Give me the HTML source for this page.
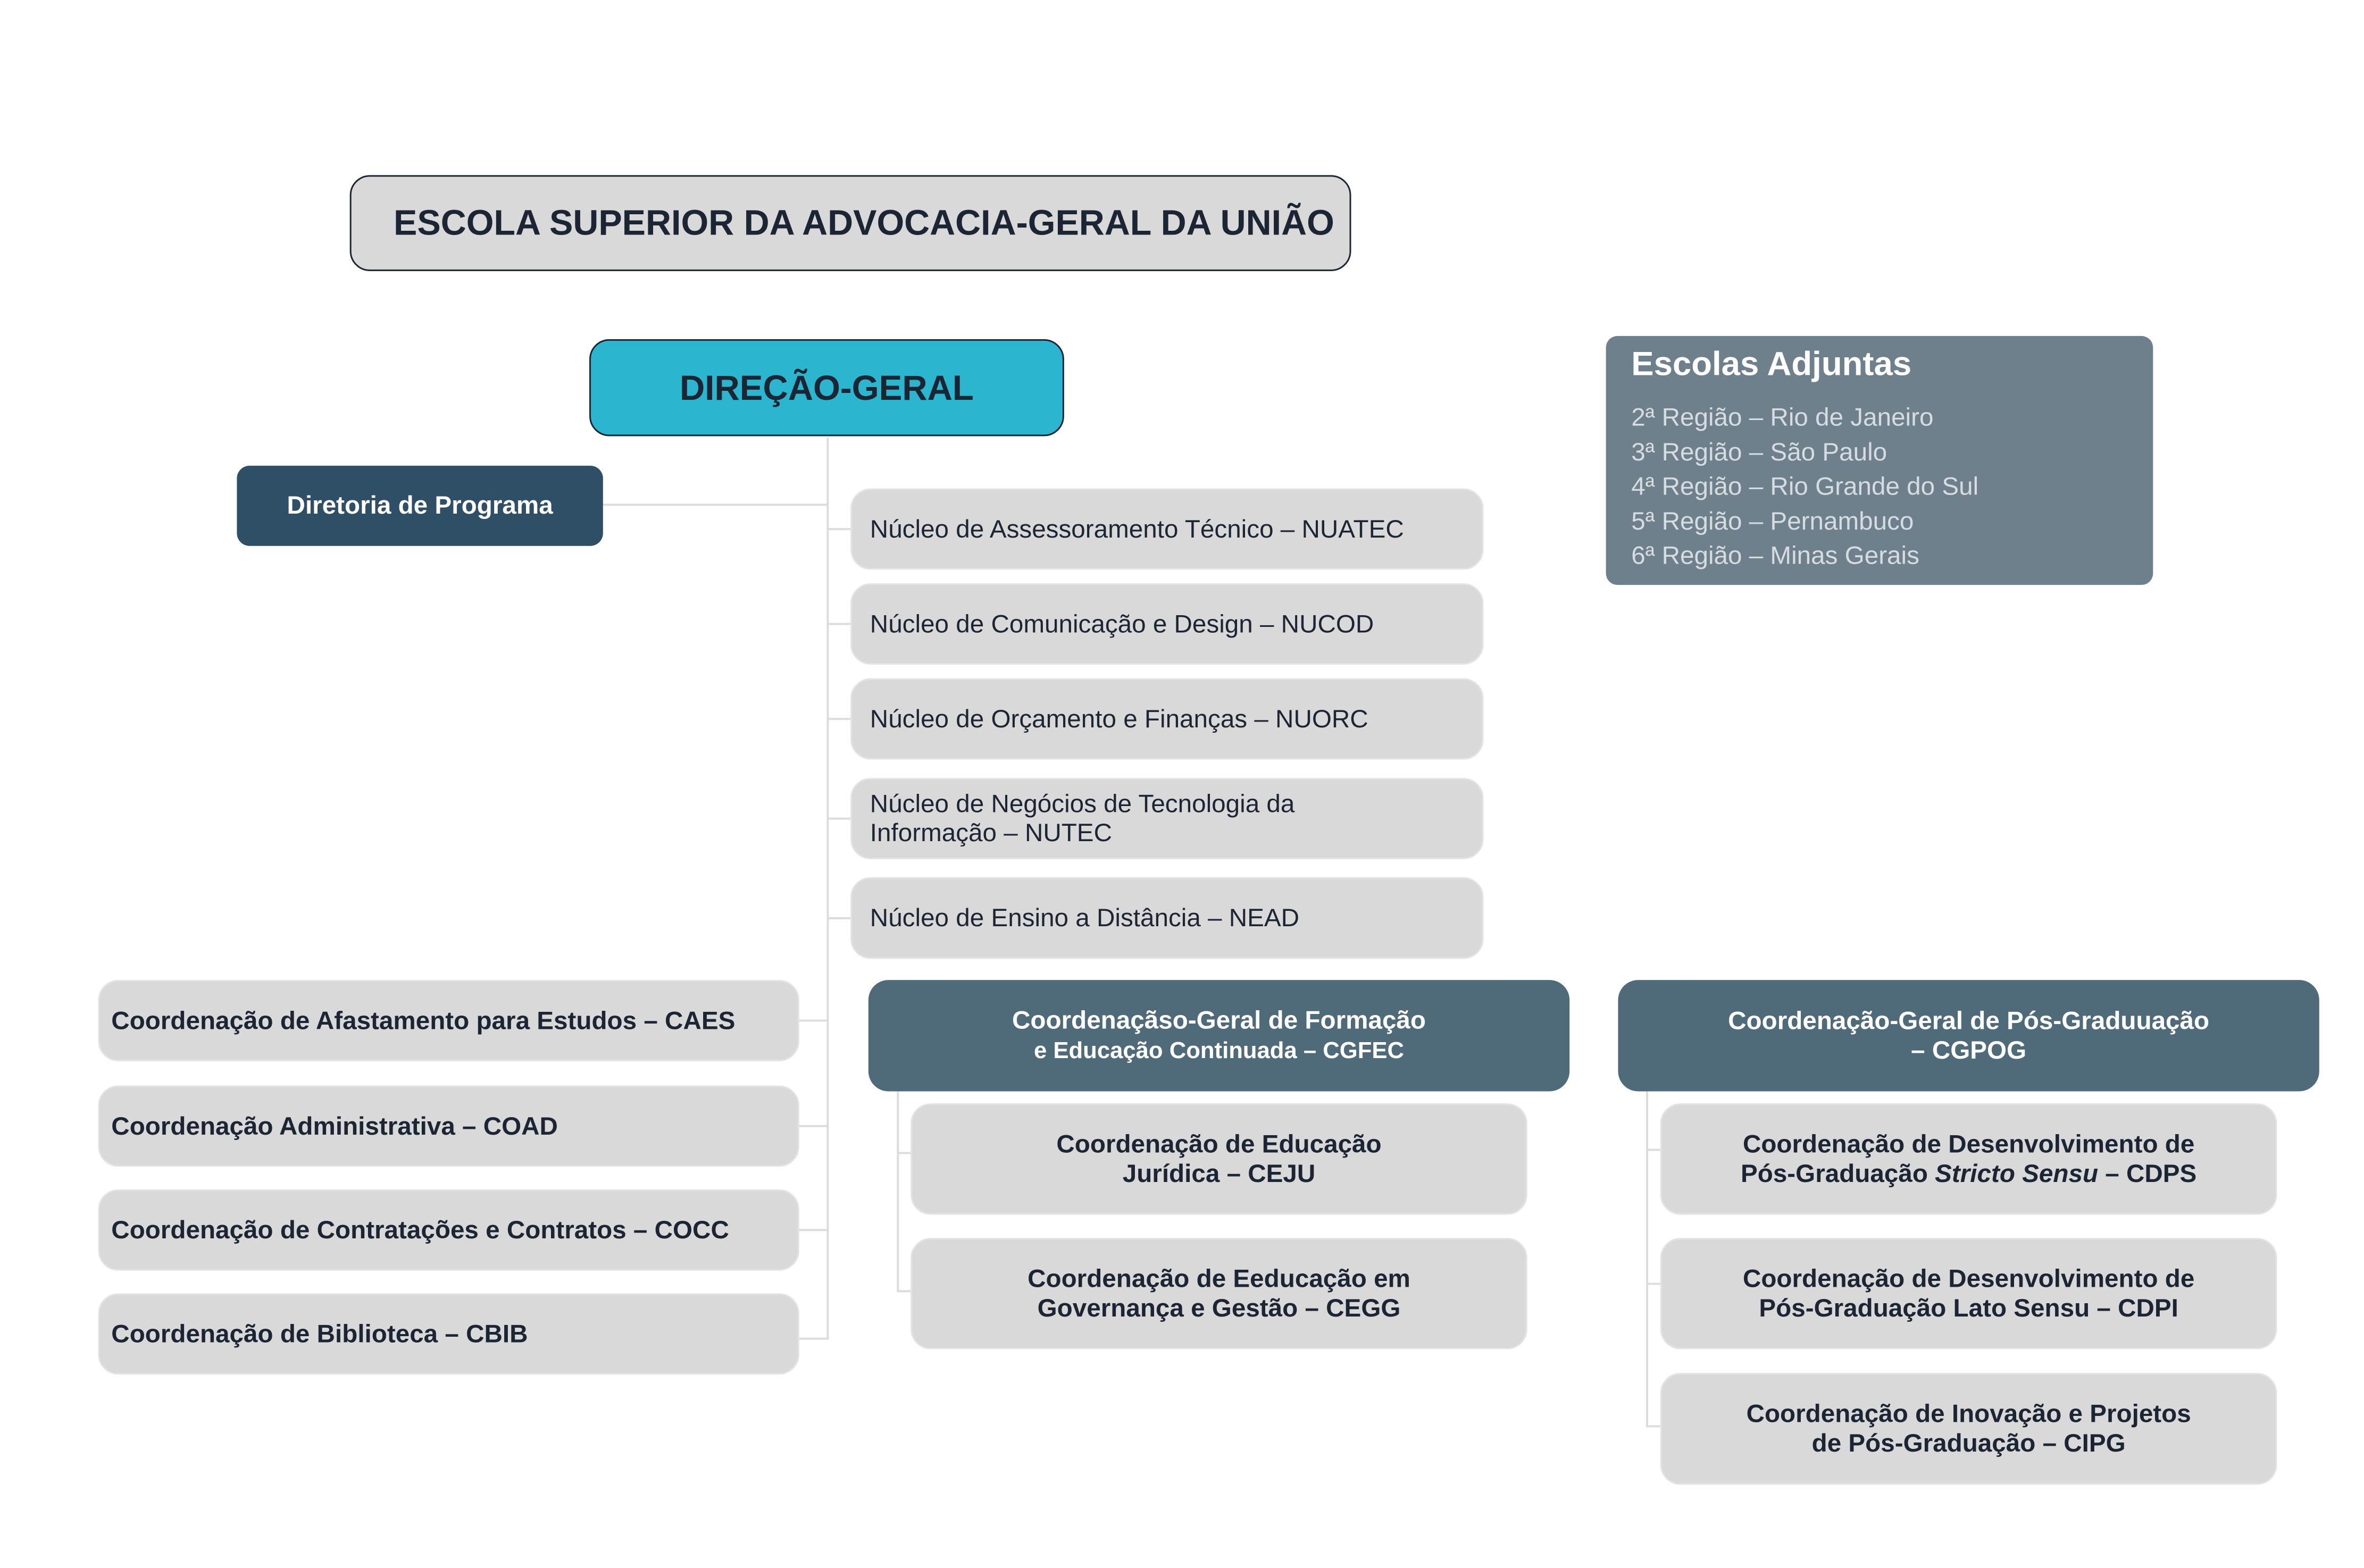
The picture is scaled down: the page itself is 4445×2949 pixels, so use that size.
<!DOCTYPE html>
<html><head><meta charset="utf-8"><style>
body{margin:0;width:4445px;height:2949px;background:#fff;position:relative;overflow:hidden;font-family:"Liberation Sans",sans-serif;}
#w{position:absolute;left:0;top:0;width:4445px;height:2949px;transform:scale(0.992);transform-origin:0 0;}
.b{position:absolute;box-sizing:border-box;display:flex;align-items:center;border-radius:38px;}
.g{background:#d9d9d9;color:#1c2533;border:3px solid #e3e3e3;}
.c{justify-content:center;text-align:center;font-weight:bold;font-size:48px;line-height:56px;}
.l{padding-left:34px;font-size:48px;line-height:55px;}
.lb{padding-left:22px;font-size:48px;font-weight:bold;}
.ln{position:absolute;background:#dcdcdc;}
</style></head><body><div id="w">
<div class="b g c" style="left:663px;top:332px;width:1898px;height:182px;border:3px solid #1c2533;font-size:67px;padding-left:80px;justify-content:flex-start;"><div>ESCOLA SUPERIOR DA ADVOCACIA-GERAL DA UNIÃO</div></div>

<div class="ln" style="left:1567px;top:829px;width:4px;height:1711px;"></div>
<div class="ln" style="left:1143px;top:955px;width:426px;height:4px;"></div>
<div class="ln" style="left:1569px;top:1001px;width:43px;height:4px;"></div>
<div class="ln" style="left:1569px;top:1181px;width:43px;height:4px;"></div>
<div class="ln" style="left:1569px;top:1361px;width:43px;height:4px;"></div>
<div class="ln" style="left:1569px;top:1550px;width:43px;height:4px;"></div>
<div class="ln" style="left:1569px;top:1739px;width:43px;height:4px;"></div>
<div class="ln" style="left:1515px;top:1933px;width:54px;height:4px;"></div>
<div class="ln" style="left:1515px;top:2133px;width:54px;height:4px;"></div>
<div class="ln" style="left:1515px;top:2330px;width:54px;height:4px;"></div>
<div class="ln" style="left:1515px;top:2536px;width:54px;height:4px;"></div>
<div class="ln" style="left:1700px;top:2060px;width:4px;height:390px;"></div>
<div class="ln" style="left:1700px;top:2184px;width:27px;height:4px;"></div>
<div class="ln" style="left:1700px;top:2446px;width:27px;height:4px;"></div>
<div class="ln" style="left:3120px;top:2060px;width:4px;height:646px;"></div>
<div class="ln" style="left:3120px;top:2178px;width:27px;height:4px;"></div>
<div class="ln" style="left:3120px;top:2432px;width:27px;height:4px;"></div>
<div class="ln" style="left:3120px;top:2702px;width:27px;height:4px;"></div>

<div class="b c" style="left:1117px;top:643px;width:900px;height:184px;background:#2bb5cf;border:3px solid #1c2533;color:#1c2533;font-size:66px;"><div>DIREÇÃO-GERAL</div></div>

<div class="b" style="left:3044px;top:637px;width:1037px;height:472px;background:#6f808d;border-radius:22px;display:block;padding:12px 0 0 48px;">
<div style="color:#fff;font-weight:bold;font-size:64px;line-height:80px;">Escolas Adjuntas</div>
<div style="color:#d6dce0;font-size:48px;line-height:65.5px;margin-top:30px;">2ª Região – Rio de Janeiro<br>3ª Região – São Paulo<br>4ª Região – Rio Grande do Sul<br>5ª Região – Pernambuco<br>6ª Região – Minas Gerais</div>
</div>

<div class="b c" style="left:449px;top:883px;width:694px;height:152px;background:#2f4f66;color:#fff;border-radius:24px;"><div>Diretoria de Programa</div></div>

<div class="b g l" style="left:1612px;top:926px;width:1200px;height:154px;"><div>Núcleo de Assessoramento Técnico – NUATEC</div></div>
<div class="b g l" style="left:1612px;top:1106px;width:1200px;height:154px;"><div>Núcleo de Comunicação e Design – NUCOD</div></div>
<div class="b g l" style="left:1612px;top:1286px;width:1200px;height:154px;"><div>Núcleo de Orçamento e Finanças – NUORC</div></div>
<div class="b g l" style="left:1612px;top:1475px;width:1200px;height:154px;"><div>Núcleo de Negócios de Tecnologia da<br>Informação – NUTEC</div></div>
<div class="b g l" style="left:1612px;top:1663px;width:1200px;height:155px;"><div>Núcleo de Ensino a Distância – NEAD</div></div>

<div class="b g lb" style="left:186px;top:1858px;width:1329px;height:154px;"><div>Coordenação de Afastamento para Estudos – CAES</div></div>
<div class="b g lb" style="left:186px;top:2058px;width:1329px;height:154px;"><div>Coordenação Administrativa – COAD</div></div>
<div class="b g lb" style="left:186px;top:2255px;width:1329px;height:154px;"><div>Coordenação de Contratações e Contratos – COCC</div></div>
<div class="b g lb" style="left:186px;top:2452px;width:1329px;height:154px;"><div>Coordenação de Biblioteca – CBIB</div></div>

<div class="b c" style="left:1646px;top:1858px;width:1329px;height:211px;background:#4f6b7a;color:#fff;"><div>Coordenaçãso-Geral de Formação<br><span style="font-size:44px">e Educação Continuada – CGFEC</span></div></div>
<div class="b c" style="left:3067px;top:1858px;width:1329px;height:211px;background:#4f6b7a;color:#fff;"><div>Coordenação-Geral de Pós-Graduuação<br>– CGPOG</div></div>

<div class="b g c" style="left:1726px;top:2092px;width:1169px;height:211px;"><div>Coordenação de Educação<br>Jurídica – CEJU</div></div>
<div class="b g c" style="left:1726px;top:2347px;width:1169px;height:211px;"><div>Coordenação de Eeducação em<br>Governança e Gestão – CEGG</div></div>

<div class="b g c" style="left:3147px;top:2092px;width:1169px;height:211px;"><div>Coordenação de Desenvolvimento de<br>Pós-Graduação <i>Stricto Sensu</i> – CDPS</div></div>
<div class="b g c" style="left:3147px;top:2347px;width:1169px;height:211px;"><div>Coordenação de Desenvolvimento de<br>Pós-Graduação Lato Sensu – CDPI</div></div>
<div class="b g c" style="left:3147px;top:2603px;width:1169px;height:212px;"><div>Coordenação de Inovação e Projetos<br>de Pós-Graduação – CIPG</div></div>
</div></body></html>
